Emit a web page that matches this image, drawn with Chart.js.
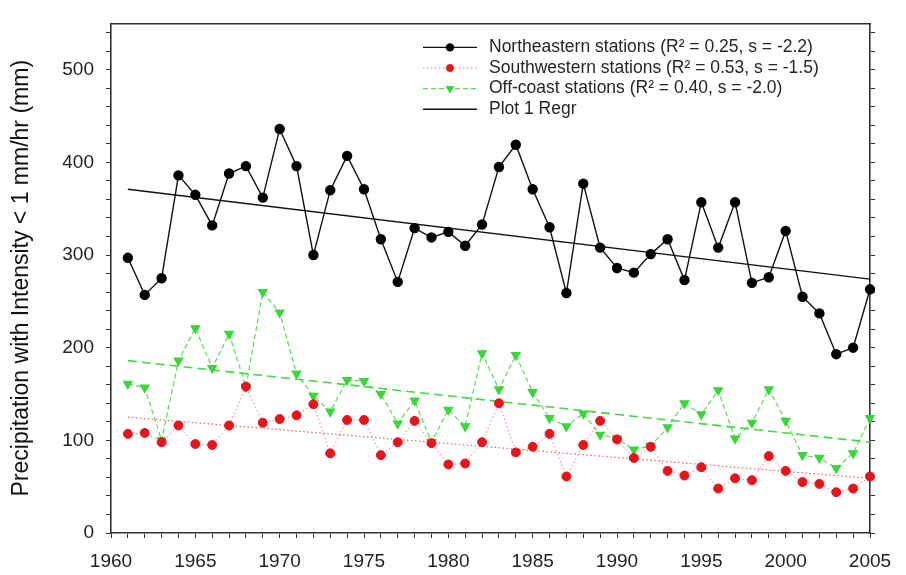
<!DOCTYPE html>
<html>
<head>
<meta charset="utf-8">
<script src="https://cdn.jsdelivr.net/npm/chart.js@4/dist/chart.umd.min.js"></script>
<style>
  html, body { margin: 0; padding: 0; background: #fff; }
</style>
</head>
<body>
<canvas id="precipChart" width="906" height="575"></canvas>
<script>
const years = [
  1961, 1962, 1963, 1964, 1965, 1966, 1967, 1968, 1969, 1970,
  1971, 1972, 1973, 1974, 1975, 1976, 1977, 1978, 1979, 1980,
  1981, 1982, 1983, 1984, 1985, 1986, 1987, 1988, 1989, 1990,
  1991, 1992, 1993, 1994, 1995, 1996, 1997, 1998, 1999, 2000,
  2001, 2002, 2003, 2004, 2005
]
const northeastern = [
  297, 257, 275, 386, 365, 332, 388, 396, 362, 436,
  396, 300, 370, 407, 371, 317, 271, 329, 319, 325,
  310, 333, 395, 419, 371, 330, 259, 377, 308, 286,
  281, 301, 317, 273, 357, 308, 357, 270, 276, 326,
  255, 237, 193, 200, 263
]
const southwestern = [
  107, 108, 98, 116, 96, 95, 116, 158, 119, 123,
  127, 139, 86, 122, 122, 84, 98, 121, 97, 74,
  75, 98, 140, 87, 93, 107, 61, 95, 121, 101,
  81, 93, 67, 62, 71, 48, 59, 57, 83, 67,
  55, 53, 44, 48, 61
]
const offCoast = [
  161, 157, 100, 186, 221, 178, 215, 158, 260, 238,
  172, 148, 131, 165, 164, 150, 118, 143, 98, 133,
  115, 194, 155, 192, 152, 124, 115, 129, 106, 102,
  90, 94, 114, 140, 128, 154, 102, 119, 155, 121,
  84, 81, 70, 86, 124
]
// regression lines, end points
const regrYears = [1961, 2005]
const northeasternRegr = [371, 274]
const southwesternRegr = [125, 59]
const offCoastRegr = [186, 98]

const xTickLabels = [1960, 1965, 1970, 1975, 1980, 1985, 1990, 1995, 2000, 2005]
const yTickLabels = [0, 100, 200, 300, 400, 500]
const legendLabels = [
  "Northeastern stations (R² = 0.25, s = -2.2)",
  "Southwestern stations (R² = 0.53, s = -1.5)",
  "Off-coast stations (R² = 0.40, s = -2.0)",
  "Plot 1 Regr"
]
const yTitle = "Precipitation with Intensity < 1 mm/hr (mm)"

const toPoints = (xs, ys) => xs.map((x, i) => ({ x: x, y: ys[i] }))
const FONT = '"Liberation Sans", Arial, sans-serif'
const AXIS = '#333'

// legend drawn inside the plot, top right
const legendPlugin = {
  id: 'insideLegend',
  afterDatasetsDraw(chart) {
    const ctx = chart.ctx
    const area = chart.chartArea
    const sources = [0, 1, 2, 3]
    ctx.save()
    ctx.font = '17.5px ' + FONT
    ctx.textBaseline = 'middle'
    legendLabels.forEach((label, i) => {
      const ds = chart.data.datasets[sources[i]]
      const y = area.top + 24 + i * 20.6
      const x0 = area.left + 312
      ctx.strokeStyle = ds.borderColor
      ctx.lineWidth = ds.borderWidth
      ctx.setLineDash(ds.borderDash || [])
      ctx.beginPath()
      ctx.moveTo(x0, y)
      ctx.lineTo(x0 + 54, y)
      ctx.stroke()
      ctx.setLineDash([])
      if (ds.pointRadius > 0) {
        ctx.fillStyle = ds.pointBackgroundColor
        ctx.strokeStyle = ds.pointBorderColor
        Chart.helpers.drawPoint(ctx, {
          pointStyle: ds.pointStyle,
          radius: ds.pointRadius - 1,
          rotation: ds.pointRotation || 0,
          borderWidth: 1
        }, x0 + 27, y)
      }
      ctx.fillStyle = '#262626'
      ctx.fillText(label, x0 + 66, y)
    })
    ctx.restore()
  }
}

new Chart(document.getElementById('precipChart'), {
  type: 'line',
  data: {
    datasets: [
      {
        label: 'Northeastern stations',
        data: toPoints(years, northeastern),
        borderColor: '#111',
        borderWidth: 1.4,
        pointStyle: 'circle',
        pointRadius: 4.5,
        pointBackgroundColor: '#000',
        pointBorderColor: '#000',
        clip: false
      },
      {
        label: 'Southwestern stations',
        data: toPoints(years, southwestern),
        borderColor: '#f07878',
        borderWidth: 1,
        borderDash: [1.5, 2.5],
        pointStyle: 'circle',
        pointRadius: 4.5,
        pointBackgroundColor: '#e8141c',
        pointBorderColor: '#e8141c',
        clip: false
      },
      {
        label: 'Off-coast stations',
        data: toPoints(years, offCoast),
        borderColor: '#55dd55',
        borderWidth: 1.2,
        borderDash: [5, 3],
        pointStyle: 'triangle',
        pointRotation: 180,
        pointRadius: 5,
        pointBackgroundColor: '#3ad63a',
        pointBorderColor: '#3ad63a',
        clip: false
      },
      {
        label: 'Plot 1 Regr',
        data: toPoints(regrYears, northeasternRegr),
        borderColor: '#111',
        borderWidth: 1.4,
        pointRadius: 0
      },
      {
        label: 'Southwestern Regr',
        data: toPoints(regrYears, southwesternRegr),
        borderColor: '#f06060',
        borderWidth: 1.2,
        borderDash: [1.5, 2.5],
        pointRadius: 0
      },
      {
        label: 'Off-coast Regr',
        data: toPoints(regrYears, offCoastRegr),
        borderColor: '#44d844',
        borderWidth: 1.6,
        borderDash: [9, 5],
        pointRadius: 0
      }
    ]
  },
  options: {
    responsive: false,
    animation: false,
    layout: { padding: 0 },
    elements: { line: { tension: 0 } },
    plugins: {
      legend: { display: false },
      tooltip: { enabled: false }
    },
    scales: {
      x: {
        type: 'linear',
        position: 'bottom',
        min: xTickLabels[0],
        max: xTickLabels[xTickLabels.length - 1],
        afterBuildTicks(scale) {
          const ticks = []
          for (let v = scale.min; v <= scale.max; v++) ticks.push({ value: v })
          scale.ticks = ticks
        },
        afterFit(scale) { scale.height = 42 },
        ticks: {
          autoSkip: false,
          maxRotation: 0,
          padding: 12,
          color: '#222',
          font: { family: FONT, size: 19 },
          callback: v => xTickLabels.includes(v) ? String(v) : ''
        },
        grid: { drawOnChartArea: false, tickLength: 5, color: AXIS, tickWidth: 1 },
        border: { color: AXIS, width: 1.6 }
      },
      xTop: {
        type: 'linear',
        position: 'top',
        min: xTickLabels[0],
        max: xTickLabels[xTickLabels.length - 1],
        afterFit(scale) { scale.height = 14 },
        ticks: { display: false },
        grid: { drawOnChartArea: false, drawTicks: false, color: AXIS },
        border: { color: AXIS, width: 1.6 }
      },
      y: {
        type: 'linear',
        position: 'left',
        min: 0,
        max: 550,
        afterBuildTicks(scale) {
          const ticks = []
          for (let v = 0; v <= 540; v += 20) ticks.push({ value: v })
          scale.ticks = ticks
        },
        afterFit(scale) { scale.width = 111 },
        ticks: {
          autoSkip: false,
          padding: 12,
          color: '#222',
          font: { family: FONT, size: 19 },
          callback: v => yTickLabels.includes(v) ? String(v) : ''
        },
        title: {
          display: true,
          text: yTitle,
          color: '#111',
          font: { family: FONT, size: 23 },
          padding: { top: 8, bottom: 0 }
        },
        grid: { drawOnChartArea: false, tickLength: 5, color: AXIS },
        border: { color: AXIS, width: 1.6 }
      },
      yRight: {
        type: 'linear',
        position: 'right',
        min: 0,
        max: 550,
        afterBuildTicks(scale) {
          const ticks = []
          for (let v = 0; v <= 540; v += 20) ticks.push({ value: v })
          scale.ticks = ticks
        },
        afterFit(scale) { scale.width = 36 },
        ticks: { display: false },
        grid: { drawOnChartArea: false, tickLength: 5, color: AXIS },
        border: { color: AXIS, width: 1.6 }
      }
    }
  },
  plugins: [legendPlugin]
})
</script>
</body>
</html>
